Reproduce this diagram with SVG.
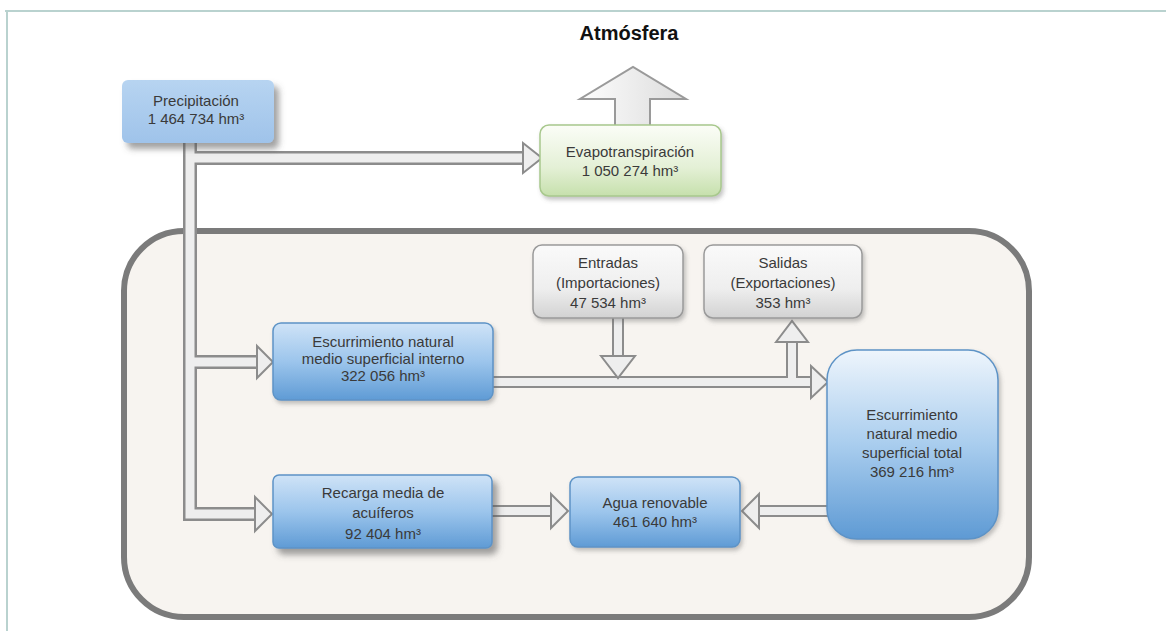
<svg xmlns="http://www.w3.org/2000/svg" width="1166" height="631" viewBox="0 0 1166 631">
<defs>
<style>
text{font-family:"Liberation Sans","DejaVu Sans",sans-serif;font-size:15px;fill:#3a3a3a;text-anchor:middle}
.title{font-size:20px;font-weight:bold;fill:#111}
.pipeo{fill:none;stroke:#8c8c8c;stroke-linejoin:miter}
.pipei{fill:none;stroke:#eeeeee;stroke-linejoin:miter}
.head{fill:#eeeeee;stroke:#8c8c8c;stroke-width:2;stroke-linejoin:miter}
.blue{fill:url(#gBlue);stroke:#5d93c6;stroke-width:1.5}
.grey{fill:url(#gGrey);stroke:#9a9a9a;stroke-width:1.5}
</style>
<linearGradient id="gBlue" x1="0" y1="0" x2="0" y2="1">
<stop offset="0" stop-color="#cfe3f7"/><stop offset="0.5" stop-color="#9cc5ec"/><stop offset="1" stop-color="#5f9bd5"/>
</linearGradient>
<linearGradient id="gBlueT" x1="0" y1="0" x2="0" y2="1">
<stop offset="0" stop-color="#eef5fc"/><stop offset="0.5" stop-color="#a9cdee"/><stop offset="1" stop-color="#5e9ad4"/>
</linearGradient>
<linearGradient id="gPrec" x1="0" y1="0" x2="0" y2="1">
<stop offset="0" stop-color="#b7d4f1"/><stop offset="1" stop-color="#9fc3ea"/>
</linearGradient>
<linearGradient id="gGreen" x1="0" y1="0" x2="0" y2="1">
<stop offset="0" stop-color="#fbfdf7"/><stop offset="0.6" stop-color="#e4f0d6"/><stop offset="1" stop-color="#c6e0ac"/>
</linearGradient>
<linearGradient id="gGrey" x1="0" y1="0" x2="0" y2="1">
<stop offset="0" stop-color="#fafafa"/><stop offset="0.6" stop-color="#eeeeee"/><stop offset="1" stop-color="#d2d2d2"/>
</linearGradient>
<linearGradient id="gArrow" x1="0" y1="0" x2="1" y2="0">
<stop offset="0" stop-color="#fdfdfd"/><stop offset="1" stop-color="#dcdcdc"/>
</linearGradient>
<filter id="sh" x="-20%" y="-20%" width="150%" height="160%">
<feDropShadow dx="5" dy="6" stdDeviation="3" flood-color="#555" flood-opacity="0.55"/>
</filter>
<filter id="shs" x="-20%" y="-20%" width="150%" height="160%">
<feDropShadow dx="2" dy="3" stdDeviation="2" flood-color="#666" flood-opacity="0.4"/>
</filter>
</defs>

<rect x="0" y="0" width="1166" height="631" fill="#ffffff"/>
<g id="frame">
<line x1="5" y1="11" x2="1166" y2="11" stroke="#b9d2cf" stroke-width="2"/>
<line x1="7" y1="11" x2="7" y2="631" stroke="#b9d2cf" stroke-width="2"/>
</g>

<g id="region">
<rect x="124" y="231" width="905" height="386" rx="60" ry="60" fill="#f7f4f0" stroke="#7b7b7b" stroke-width="6"/>
</g>

<text class="title" x="629" y="40">Atmósfera</text>

<g id="connectors">
<path class="pipeo" stroke-width="14" d="M190 143 V514 H256 M190 158 H524 M190 362 H258"/>
<path class="pipeo" stroke-width="12" d="M492 382 H812 M492 511 H552 M828 511 H758 M618 318 V358 M792 382 V340"/>
<path class="pipei" stroke-width="9" d="M190 143 V514 H256 M190 158 H524 M190 362 H258"/>
<path class="pipei" stroke-width="8" d="M492 382 H812 M492 511 H552 M828 511 H758 M618 318 V358 M792 378 V340"/>
<polygon class="head" points="523,143 542,158 523,173"/>
<polygon class="head" points="257,346 273,362 257,378"/>
<polygon class="head" points="255,497 272,514 255,531"/>
<polygon class="head" points="811,366 828,382 811,398"/>
<polygon class="head" points="551,494 568,511 551,528"/>
<polygon class="head" points="759,494 742,511 759,528"/>
<polygon class="head" points="601,356 618,378 635,356"/>
<polygon class="head" points="776,342 792,321 808,342"/>
<polygon points="615,126 615,99 580,99 633,67 686,99 650,99 650,126" fill="url(#gArrow)" stroke="#9a9a9a" stroke-width="2"/>
</g>

<g id="precipitacion">
<rect x="122" y="80" width="152" height="63" rx="6" fill="url(#gPrec)" filter="url(#sh)"/>
<text x="196" y="106">Precipitación</text>
<text x="196" y="124">1 464 734 hm³</text>
</g>

<g id="evapotranspiracion">
<rect x="540" y="125" width="181" height="71" rx="9" fill="url(#gGreen)" stroke="#a8c88d" stroke-width="1.5" filter="url(#shs)"/>
<text x="630" y="157">Evapotranspiración</text>
<text x="630" y="176">1 050 274 hm³</text>
</g>

<g id="entradas">
<rect x="533" y="245" width="150" height="73" rx="9" class="grey" filter="url(#shs)"/>
<text x="608" y="268">Entradas</text>
<text x="608" y="288">(Importaciones)</text>
<text x="608" y="308">47 534 hm³</text>
</g>

<g id="salidas">
<rect x="704" y="245" width="158" height="73" rx="9" class="grey" filter="url(#shs)"/>
<text x="783" y="268">Salidas</text>
<text x="783" y="288">(Exportaciones)</text>
<text x="783" y="308">353 hm³</text>
</g>

<g id="escurrimiento-interno">
<rect x="273" y="323" width="220" height="77" rx="8" class="blue" filter="url(#shs)"/>
<text x="383" y="347">Escurrimiento natural</text>
<text x="383" y="364">medio superficial interno</text>
<text x="383" y="381">322 056 hm³</text>
</g>

<g id="escurrimiento-total">
<rect x="827" y="350" width="171" height="189" rx="30" fill="url(#gBlueT)" stroke="#5d93c6" stroke-width="1.5" filter="url(#shs)"/>
<text x="912" y="420">Escurrimiento</text>
<text x="912" y="439">natural medio</text>
<text x="912" y="458">superficial total</text>
<text x="912" y="477">369 216 hm³</text>
</g>

<g id="recarga">
<rect x="273" y="475" width="219" height="73" rx="6" class="blue" filter="url(#sh)"/>
<text x="383" y="498">Recarga media de</text>
<text x="383" y="518">acuíferos</text>
<text x="383" y="539">92 404 hm³</text>
</g>

<g id="agua-renovable">
<rect x="570" y="477" width="170" height="70" rx="8" class="blue" filter="url(#shs)"/>
<text x="655" y="508">Agua renovable</text>
<text x="655" y="527">461 640 hm³</text>
</g>
</svg>
